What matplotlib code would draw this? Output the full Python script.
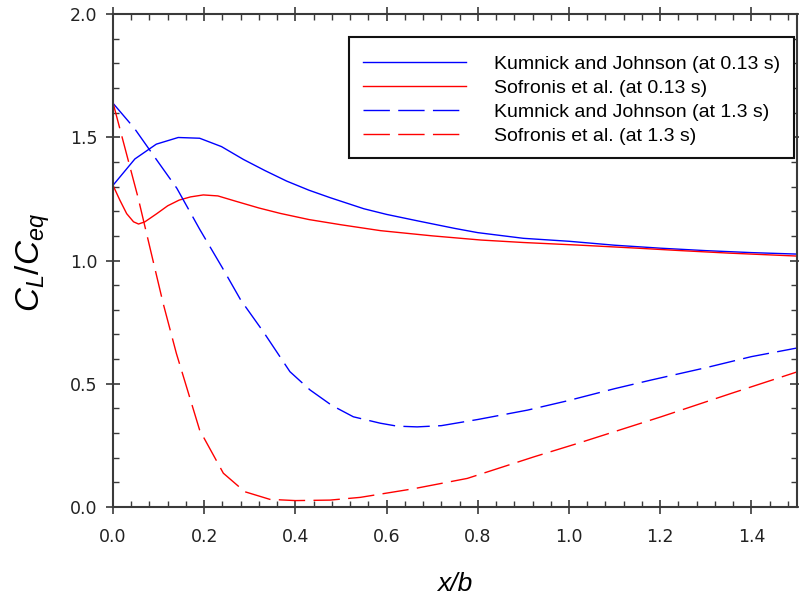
import numpy as np
import matplotlib
matplotlib.use('Agg')
import matplotlib.pyplot as plt
from matplotlib.patches import Rectangle
from matplotlib.ticker import MultipleLocator, FormatStrFormatter

# Kumnick and Johnson (at 0.13 s)
kj_short_x = [0, 0.048, 0.095, 0.143, 0.19, 0.238, 0.286, 0.333, 0.381, 0.43, 0.476,
              0.55, 0.6, 0.67, 0.75, 0.8, 0.9, 1.0, 1.1, 1.2, 1.3, 1.4, 1.5]
kj_short_y = [1.305, 1.412, 1.472, 1.499, 1.496, 1.462, 1.41, 1.365, 1.322, 1.285, 1.255,
              1.21, 1.187, 1.16, 1.13, 1.113, 1.09, 1.078, 1.062, 1.05, 1.04, 1.032, 1.026]

# Sofronis et al. (at 0.13 s)
so_short_x = [0, 0.015, 0.03, 0.045, 0.056, 0.07, 0.096, 0.12, 0.145, 0.17, 0.198, 0.23,
              0.27, 0.32, 0.367, 0.43, 0.5, 0.587, 0.7, 0.807, 0.9, 1.026, 1.15, 1.246,
              1.35, 1.5]
so_short_y = [1.305, 1.245, 1.19, 1.157, 1.148, 1.157, 1.19, 1.222, 1.245, 1.258, 1.266,
              1.262, 1.24, 1.213, 1.191, 1.166, 1.145, 1.121, 1.1, 1.083, 1.073, 1.062,
              1.05, 1.04, 1.03, 1.018]

# Kumnick and Johnson (at 1.3 s)
kj_long_x = [0, 0.047, 0.1, 0.14, 0.19, 0.24, 0.28, 0.33, 0.388, 0.432, 0.48, 0.527,
             0.586, 0.623, 0.667, 0.72, 0.8, 0.909, 0.997, 1.1, 1.18, 1.3, 1.4, 1.5]
kj_long_y = [1.638, 1.536, 1.397, 1.293, 1.127, 0.97, 0.84, 0.71, 0.549, 0.475, 0.412,
             0.366, 0.34, 0.328, 0.325, 0.33, 0.355, 0.393, 0.431, 0.48, 0.515, 0.565,
             0.61, 0.645]

# Sofronis et al. (at 1.3 s)
so_long_x = [0, 0.055, 0.11, 0.139, 0.19, 0.242, 0.289, 0.344, 0.4, 0.476, 0.542, 0.659,
             0.777, 0.924, 1.019, 1.202, 1.356, 1.5]
so_long_y = [1.64, 1.255, 0.826, 0.623, 0.312, 0.137, 0.062, 0.031, 0.026, 0.028, 0.039,
             0.074, 0.116, 0.204, 0.258, 0.366, 0.461, 0.548]

labels = ['Kumnick and Johnson (at 0.13 s)', 'Sofronis et al. (at 0.13 s)',
          'Kumnick and Johnson (at 1.3 s)', 'Sofronis et al. (at 1.3 s)']

plt.rcParams['mathtext.fontset'] = 'custom'
plt.rcParams['mathtext.rm'] = 'Liberation Sans'
plt.rcParams['mathtext.it'] = 'Liberation Sans:italic'

fig = plt.figure(figsize=(7.99, 5.98), dpi=100)
ax = fig.add_axes([113 / 799, 91 / 598, 684 / 799, 493 / 598])

dash = (0, (19, 6))
lw = 1.0
ax.plot(kj_short_x, kj_short_y, color='#0000ff', lw=lw, label=labels[0])
ax.plot(so_short_x, so_short_y, color='#ff0000', lw=lw, label=labels[1])
ax.plot(kj_long_x, kj_long_y, color='#0000ff', lw=lw, ls=dash, label=labels[2])
ax.plot(so_long_x, so_long_y, color='#ff0000', lw=lw, ls=dash, label=labels[3])

ax.set_xlim(0, 1.5)
ax.set_ylim(0, 2.0)
ax.xaxis.set_major_locator(MultipleLocator(0.2))
ax.xaxis.set_minor_locator(MultipleLocator(0.04))
ax.yaxis.set_major_locator(MultipleLocator(0.5))
ax.yaxis.set_minor_locator(MultipleLocator(0.1))
ax.xaxis.set_major_formatter(FormatStrFormatter('%.1f'))
ax.yaxis.set_major_formatter(FormatStrFormatter('%.1f'))

spine_col = '#3a3a3a'
for s in ax.spines.values():
    s.set_color(spine_col)
    s.set_linewidth(1.5)

ax.tick_params(which='major', direction='inout', length=10, width=1.2, color=spine_col,
               top=True, right=True, labelsize=12.5, pad=6)
ax.tick_params(which='minor', direction='in', length=4, width=1.0, color=spine_col,
               top=True, right=True)
ax.tick_params(axis='x', which='major', pad=10)
for lab in ax.get_xticklabels() + ax.get_yticklabels():
    lab.set_fontfamily('DejaVu Sans')
    lab.set_color('#222222')

ax.set_xlabel('x/b', fontsize=19, fontstyle='italic', family='Liberation Sans')
ax.xaxis.set_label_coords(0.5, -0.132)
ax.xaxis.label.set_va('top')
ax.set_ylabel('$C_L/C_{eq}$', fontsize=24)
ax.yaxis.set_label_coords(-0.118, 0.496)
ax.yaxis.label.set_va('center')

# legend frame drawn separately so the padding can differ top/side
box = Rectangle((0.3455, 0.7073), 0.6506, 0.2467, transform=ax.transAxes,
                facecolor='white', edgecolor='#111111', lw=1.5, zorder=4)
ax.add_patch(box)
leg = ax.legend(loc='upper left', bbox_to_anchor=(0.3455, 0.9445, 0.6505, 0.0),
                mode='expand', prop={'family': 'Liberation Sans', 'size': 14},
                handlelength=5.3, handletextpad=1.45, labelspacing=0.34,
                borderpad=0.7, borderaxespad=0, frameon=False)
leg.set_zorder(5)

fig.savefig('out.png', dpi=100)
